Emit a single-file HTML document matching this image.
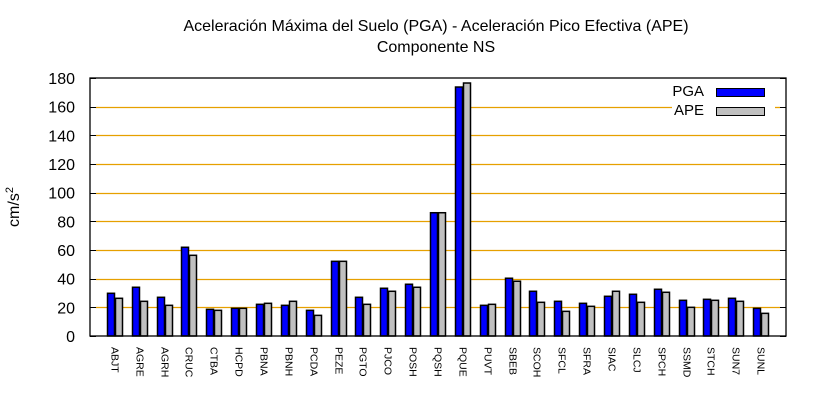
<!DOCTYPE html>
<html><head><meta charset="utf-8"><style>
body{margin:0;background:#fff;}
svg{display:block;font-family:"Liberation Sans",sans-serif;}
</style></head><body>
<svg id="chart" width="820" height="400">
<text x="436" y="31" text-anchor="middle" font-size="16">Aceleración Máxima del Suelo (PGA) -  Aceleración Pico Efectiva (APE)</text>
<text x="436" y="52" text-anchor="middle" font-size="16">Componente NS</text>
<text transform="translate(19,207) rotate(-90)" text-anchor="middle" font-size="16">cm/s<tspan dy="-6" font-size="11">2</tspan></text>
<g id="grid"></g>
<g id="bars"></g>
<g id="ticks"></g>
<rect x="90" y="78" width="696" height="258" fill="none" stroke="#000" stroke-width="1.3"/>
<g>
<text x="704" y="96" text-anchor="end" font-size="15">PGA</text>
<rect x="716.5" y="88.5" width="48" height="8" fill="#0000ff" stroke="#000"/>
<text x="704" y="115" text-anchor="end" font-size="15">APE</text>
<rect x="716.5" y="107.5" width="48" height="8" fill="#c0c0c0" stroke="#000"/>
</g>
</svg>
<script>
const categories=["ABJT","AGRE","AGRH","CRUC","CTBA","HCPD","PBNA","PBNH","PCDA","PEZE","PGTO","PJCO","POSH","PQSH","PQUE","PUVT","SBEB","SCOH","SFCL","SFRA","SIAC","SLCJ","SPCH","SSMD","STCH","SUN7","SUNL"];
const pgaValues=[29.8,34,27,61.9,18.6,19.3,22.1,21.4,17.9,52.1,27,33.3,36.1,86,173.7,21.4,40.3,31.2,24.2,22.8,27.7,29.1,32.6,24.9,25.6,26.3,19.3];
const apeValues=[26.3,24.2,21.4,56.3,17.9,19.3,22.8,24.2,14.4,52.1,22.1,31.2,34,86,176.5,22.1,38.2,23.5,17.2,20.7,31.2,23.5,30.5,20,24.9,24.2,15.8];
const yTicks=[0,20,40,60,80,100,120,140,160,180];
const NS="http://www.w3.org/2000/svg";
const L=90,R=786,T=78,B=336;
function xs(i){return L+(i+1)*(R-L)/(categories.length+1);}
function ys(v){return B-v*(B-T)/180;}
function mk(tag,attrs,parent){const e=document.createElementNS(NS,tag);for(const k in attrs)e.setAttribute(k,attrs[k]);parent.appendChild(e);return e;}
const grid=document.getElementById('grid'),bars=document.getElementById('bars'),ticks=document.getElementById('ticks');
yTicks.forEach(v=>{
  const y=Math.round(ys(v))+0.5;
  if(v>0&&v<180){
    const x2=(v===160)?672:R-6;
    const g=mk('line',{x1:L+6,x2:x2,y1:y,y2:y,stroke:'#e6a000','stroke-width':1.3},grid);
    
    
    if(v===160){const g2=mk('line',{x1:775,x2:R-6,y1:y,y2:y,stroke:'#e6a000','stroke-width':1.3},grid);
      
      }
  }
  const t1=mk('line',{x1:L,x2:L+6,y1:y,y2:y,stroke:'#000'},ticks);
  
  
  const t2=mk('line',{x1:R-6,x2:R,y1:y,y2:y,stroke:'#000'},ticks);
  
  
  const lb=mk('text',{x:75,y:ys(v)+6,'text-anchor':'end','font-size':16},ticks);
  lb.textContent=v;
  
  
});
const bw=8;
categories.forEach((c,i)=>{
  const cx=Math.round(xs(i));
  const b1=mk('rect',{x:cx-bw+0.5,y:ys(pgaValues[i]),width:bw-1,height:B-ys(pgaValues[i]),fill:'#0000ff',stroke:'#000','stroke-width':1.5},bars);
  
  
  const b2=mk('rect',{x:cx+0.5,y:ys(apeValues[i]),width:bw-1,height:B-ys(apeValues[i]),fill:'#c0c0c0',stroke:'#000','stroke-width':1.5},bars);
  
  
  const t=mk('text',{transform:'translate('+(cx-3.5)+',347) rotate(90)','font-size':10.5},ticks);
  t.textContent=c;
  
  
});
</script>
</body></html>
